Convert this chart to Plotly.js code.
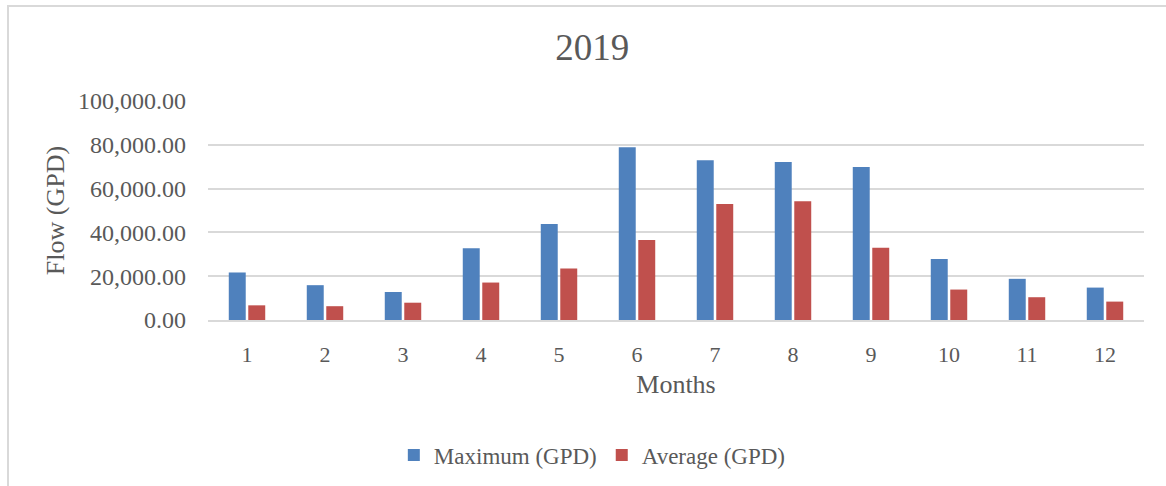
<!DOCTYPE html>
<html>
<head>
<meta charset="utf-8">
<script src="https://cdn.plot.ly/plotly-3.0.1.min.js"></script>
<style>
  html, body { margin: 0; padding: 0; background: #fff; }
  #chart { width: 1166px; height: 486px; }
  #frame { position: absolute; left: 7px; top: 5px; width: 1170px; height: 490px;
           border-left: 2px solid #D9D9D9; border-top: 2px solid #D9D9D9; pointer-events: none; }
</style>
</head>
<body>
<div id="chart"></div>
<div id="frame"></div>
<script>
const months = ['1','2','3','4','5','6','7','8','9','10','11','12'];
const maximumGPD = [21700, 15900, 12800, 32800, 43800, 78900, 73000, 72100, 69900, 27800, 18800, 14800];
const averageGPD = [6700, 6300, 7900, 17100, 23500, 36500, 53000, 54200, 33000, 13900, 10400, 8400];
const tickVals = [0, 20000, 40000, 60000, 80000, 100000];
const tickText = ['0.00', '20,000.00', '40,000.00', '60,000.00', '80,000.00', '100,000.00'];

const font = 'Liberation Serif';
const gray = '#595959';

const traces = [
  { type: 'bar', name: 'Maximum (GPD)', x: months, y: maximumGPD,
    marker: { color: '#4F81BD' }, hoverinfo: 'x+y' },
  { type: 'bar', name: 'Average (GPD)', x: months, y: averageGPD,
    marker: { color: '#C0504D' }, hoverinfo: 'x+y' }
];

const layout = {
  width: 1166, height: 486,
  margin: { l: 208, r: 22, t: 101, b: 166 },
  paper_bgcolor: '#fff', plot_bgcolor: '#fff',
  font: { family: font, color: gray, size: 22 },
  title: { text: '2019', font: { family: font, size: 37, color: gray },
           x: 0.508, xref: 'container', y: 1 - 47/486, yref: 'container', yanchor: 'middle' },
  barmode: 'group', bargap: 0.5, bargroupgap: 0.13,
  xaxis: {
    type: 'category', showgrid: false, showline: true, linecolor: '#D9D9D9', linewidth: 2,
    ticks: '', tickfont: { family: font, size: 22, color: gray }, ticklabelstandoff: 14,
    title: { text: 'Months', font: { family: font, size: 26, color: gray }, standoff: 8 },
    automargin: false
  },
  yaxis: {
    range: [0, 100000], tickvals: tickVals, ticktext: tickText,
    showgrid: true, gridcolor: '#D9D9D9', gridwidth: 2, zeroline: false,
    showline: false, ticks: '', tickfont: { family: font, size: 24, color: gray },
    ticklabelstandoff: 21,
    title: { text: 'Flow (GPD)', font: { family: font, size: 26, color: gray }, standoff: 5 },
    automargin: false
  },
  showlegend: true,
  legend: { orientation: 'h', xref: 'container', yref: 'container', x: 0.508, y: 1 - 455/486,
            xanchor: 'center', yanchor: 'middle',
            font: { family: font, size: 23, color: gray },
            itemwidth: 30, tracegroupgap: 0 }
};

Plotly.newPlot('chart', traces, layout, { displayModeBar: false, staticPlot: true });
</script>
</body>
</html>
